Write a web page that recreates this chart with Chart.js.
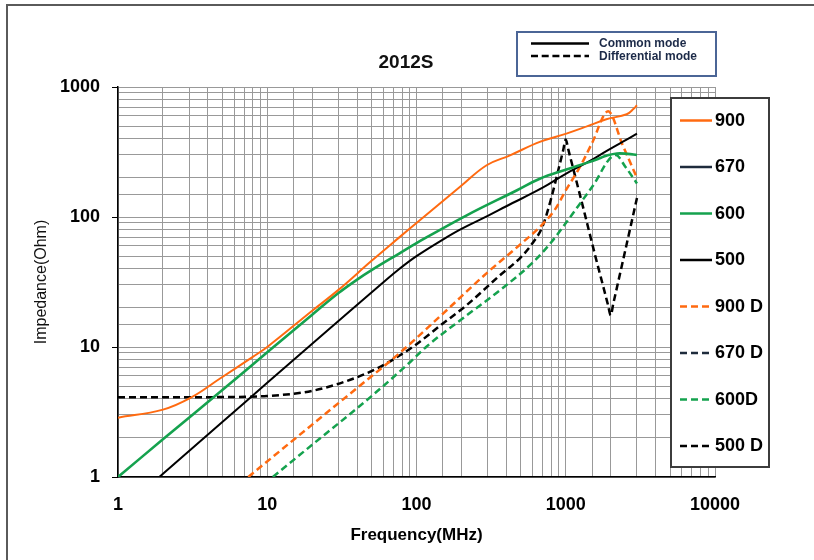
<!DOCTYPE html>
<html lang="en">
<head>
  <meta charset="UTF-8">
  <title>2012S Impedance vs Frequency</title>
  <script src="https://cdn.jsdelivr.net/npm/chart.js"></script>
  <style>
    html, body { margin: 0; padding: 0; background: #fff; }
    body { width: 814px; height: 560px; position: relative; overflow: hidden;
           font-family: 'Liberation Sans', Arial, sans-serif; }
    #chart { position: absolute; left: 0; top: 0; }
    #frame { position: absolute; left: 6px; top: 4px; width: 820px; height: 570px;
             border-left: 2px solid #5a5a5a; border-top: 2px solid #5a5a5a; }
    #title { position: absolute; left: 306px; width: 200px; top: 51px; text-align: center;
             font-weight: bold; font-size: 19px; line-height: 22px; color: #111; }
    #modeBox { position: absolute; left: 516px; top: 31px; width: 201px; height: 46px;
               box-sizing: border-box; border: 2px solid #4b6596; background: #fff; }
    #seriesBox { position: absolute; left: 670px; top: 97px; width: 100px; height: 371px;
                 box-sizing: border-box; border: 2px solid #3c3c3c; background: #fff; }
    .lbl { position: absolute; white-space: nowrap; font-weight: bold; }
    svg.overlay { position: absolute; left: 0; top: 0; }
  </style>
</head>
<body>
  <canvas id="chart" width="814" height="560"></canvas>
  <div id="frame"></div>
  <div id="title">2012S</div>
  <div id="modeBox"></div>
  <div id="seriesBox"></div>
  <svg class="overlay" id="marks" width="814" height="560"></svg>

  <script>
    // frequency (MHz) / impedance (Ohm)
    const freq900 = [1, 2, 3.1, 4.8, 8, 10, 20, 30, 50, 77, 100, 195, 295, 423, 670, 1010, 1400, 1870, 2560, 2850, 3000];
    const imp900  = [2.86, 3.3, 4.1, 5.7, 8.4, 10, 19, 27.5, 46, 70, 90, 170, 250, 298, 378, 438, 500, 565, 617, 680, 724];

    const freq670 = [];
    const imp670  = [];

    const freq600 = [1, 2, 5, 10, 20, 30, 40, 50, 77, 100, 217, 468, 670, 1010, 1400, 1690, 1870, 2200, 2600, 3000];
    const imp600  = [1, 1.95, 4.67, 9.1, 17.7, 26, 33, 39, 52.6, 63, 103, 160, 197, 232, 262, 283, 296, 308, 306, 300];

    const freq500 = [1.89, 5, 10, 20, 36, 60, 77, 100, 150, 200, 300, 400, 700, 1000, 1413, 1870, 2400, 3000];
    const imp500  = [1, 2.65, 5.3, 10.6, 19, 31.5, 40, 50, 67, 81, 102, 121, 168, 215, 265, 321, 378, 438];

    const freq900D = [7.46, 20, 40, 77, 150, 300, 500, 700, 850, 1000, 1250, 1500, 1923, 2400, 3000];
    const imp900D  = [1, 2.53, 4.84, 8.97, 18, 37.6, 62, 88, 115, 160, 245, 370, 650, 360, 200];

    const freq670D = [];
    const imp670D  = [];

    const freq600D = [10.9, 20, 50, 90, 117, 217, 362, 605, 800, 1010, 1500, 2163, 2500, 3000];
    const imp600D  = [1, 1.77, 4.19, 7.6, 10.1, 17.5, 27.3, 45, 64, 91, 170, 300, 245, 181];

    const freq500D = [1, 5, 10, 20, 36, 54, 77, 100, 143, 217, 362, 500, 600, 700, 800, 900, 960, 1000, 1040,
                      1150, 1306, 1600, 1800, 1920, 2000, 2080, 2200, 2600, 3000];
    const imp500D  = [4.1, 4.12, 4.2, 4.6, 5.6, 6.8, 8.6, 10.5, 14.5, 21, 35.6, 49, 63, 85, 140, 240, 324, 395, 331,
                      211, 119, 47, 28, 21, 17.5, 21.4, 28.5, 67, 140];

    const seriesNames = ['900', '670', '600', '500', '900 D', '670 D', '600D', '500 D'];
    const seriesFreq  = [freq900, freq670, freq600, freq500, freq900D, freq670D, freq600D, freq500D];
    const seriesImp   = [imp900, imp670, imp600, imp500, imp900D, imp670D, imp600D, imp500D];

    const modeNames = ['Common mode', 'Differential mode'];

    // styles
    const seriesColors = ['#ff6a10', '#1e2b3c', '#15a24e', '#000000', '#ff6a10', '#1e2b3c', '#15a24e', '#000000'];
    const seriesDashed = [false, false, false, false, true, true, true, true];
    const FONT = "'Liberation Sans', Arial, sans-serif";

    function isDecade(v) {
      const l = Math.log10(v);
      return Math.abs(l - Math.round(l)) < 1e-9;
    }

    // solid curves are smooth; dashed ones have sharp resonance peaks, so keep them monotone
    const datasets = seriesNames.map((name, i) => ({
      label: name,
      data: seriesFreq[i].map((f, k) => ({ x: f, y: seriesImp[i][k] })),
      borderColor: seriesColors[i],
      borderWidth: seriesDashed[i] ? 2.5 : (i === 2 ? 2.6 : 2),
      borderDash: seriesDashed[i] ? [7, 4] : [],
      pointRadius: 0,
      fill: false,
      tension: 0.4,
      cubicInterpolationMode: seriesDashed[i] ? 'monotone' : 'default'
    }));

    new Chart(document.getElementById('chart').getContext('2d'), {
      type: 'line',
      data: { datasets: datasets },
      options: {
        responsive: false,
        animation: false,
        layout: { padding: { top: 87, right: 99, left: 0, bottom: 0 } },
        plugins: {
          legend: { display: false },
          tooltip: { enabled: false },
          title: { display: false }
        },
        scales: {
          x: {
            type: 'logarithmic',
            position: 'bottom',
            min: 1,
            max: 10000,
            afterFit: s => { s.height = 83; },
            grid: { color: '#999999', lineWidth: 1, drawTicks: false },
            border: { color: '#000', width: 1.5 },
            ticks: {
              autoSkip: false, maxRotation: 0, padding: 17, color: '#000',
              font: { family: FONT, size: 18, weight: 'bold' },
              callback: v => isDecade(v) ? String(v) : ''
            },
            title: {
              display: true, text: 'Frequency(MHz)', color: '#000',
              font: { family: FONT, size: 17, weight: 'bold' },
              padding: { top: 0, bottom: 14 }
            }
          },
          y: {
            type: 'logarithmic',
            position: 'left',
            min: 1,
            max: 1000,
            afterFit: s => { s.width = 118; },
            grid: {
              color: '#999999', lineWidth: 1, tickLength: 6,
              tickColor: ctx => (ctx.tick && isDecade(ctx.tick.value)) ? '#000' : 'rgba(0,0,0,0)'
            },
            border: { color: '#000', width: 1.5 },
            ticks: {
              autoSkip: false, padding: 12, color: '#000',
              font: { family: FONT, size: 18, weight: 'bold' },
              callback: v => isDecade(v) ? String(v) : ''
            },
            title: {
              display: true, text: 'Impedance(Ohm)', color: '#111',
              font: { family: FONT, size: 16 },
              padding: { top: 32, bottom: 0 }
            }
          }
        }
      }
    });

    // legends drawn as overlays
    const svg = document.getElementById('marks');
    const NS = 'http://www.w3.org/2000/svg';
    function addLine(x1, x2, y, color, width, dash) {
      const ln = document.createElementNS(NS, 'line');
      ln.setAttribute('x1', x1); ln.setAttribute('x2', x2);
      ln.setAttribute('y1', y); ln.setAttribute('y2', y);
      ln.setAttribute('stroke', color);
      ln.setAttribute('stroke-width', width);
      if (dash) ln.setAttribute('stroke-dasharray', dash);
      svg.appendChild(ln);
    }
    function addLabel(text, x, yMid, size, color) {
      const d = document.createElement('div');
      d.className = 'lbl';
      d.textContent = text;
      d.style.left = x + 'px';
      d.style.top = (yMid - size * 0.6) + 'px';
      d.style.fontSize = size + 'px';
      d.style.lineHeight = (size * 1.2) + 'px';
      d.style.color = color;
      document.body.appendChild(d);
    }

    // series legend (right box)
    seriesNames.forEach((name, i) => {
      const y = 120.5 + 46.5 * i;
      if (seriesDashed[i]) addLine(680, 709, y, seriesColors[i], 2.5, '7,4');
      else addLine(680, 712, y, seriesColors[i], 2.5, null);
      addLabel(name, 715, y, 18, '#000');
    });

    // line style legend (top box)
    modeNames.forEach((name, i) => {
      const y = 43.5 + 12.5 * i;
      addLine(531, 589, y, '#000', 2.5, i === 1 ? '7,3.7' : null);
      addLabel(name, 599, y, 12, '#1c2a48');
    });
  </script>
</body>
</html>
